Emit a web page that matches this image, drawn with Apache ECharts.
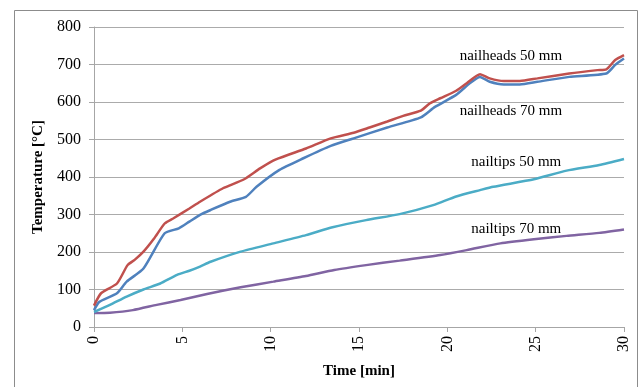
<!DOCTYPE html>
<html>
<head>
<meta charset="utf-8">
<script src="https://cdn.jsdelivr.net/npm/echarts@6/dist/echarts.min.js"></script>
<style>
  html, body { margin: 0; padding: 0; background: #fff; }
  #chart { width: 640px; height: 387px; }
</style>
</head>
<body>
<div id="chart"></div>
<script>
// Measured temperatures (°C) against time (min) for each sensor position
const headsTime50 = [0, 0.4, 1.3, 1.9, 2.3, 2.8, 3.4, 4.0, 4.5, 5.4, 6.0, 7.3, 8.5, 9.4, 10.3, 12.0, 13.4, 14.7, 15.6, 16.6, 17.5, 18.5, 19.0, 19.6, 20.5, 21.1, 21.85, 22.4, 23.2, 24.1, 25.1, 26.9, 28.5, 29.0, 29.5, 30];
const headsTemp50 = [57, 90, 116, 165, 179, 201, 236, 276, 290, 316, 334, 370, 394, 423, 447, 476, 503, 518, 532, 548, 563, 577, 596, 610, 630, 650, 674, 663, 656, 656, 663, 676, 685, 687, 712, 725];

const headsTime70 = [0, 0.3, 1.3, 1.85, 2.8, 4.0, 4.8, 5.4, 6.0, 6.6, 7.7, 8.6, 9.2, 10.5, 11.85, 13.4, 14.7, 16.6, 18.5, 19.3, 20.5, 21.3, 21.85, 22.4, 23.2, 24.1, 25.1, 26.9, 29.0, 29.5, 30];
const headsTemp70 = [45, 67, 90, 121, 156, 250, 263, 281, 299, 312, 334, 347, 374, 419, 450, 483, 503, 532, 559, 587, 619, 651, 667, 654, 647, 647, 654, 667, 676, 699, 716];

const tipsTime50 = [0, 0.9, 1.85, 2.8, 3.75, 4.7, 5.4, 6.0, 6.6, 8.3, 10.15, 12.0, 13.5, 15.4, 17.3, 19.2, 20.5, 21.85, 22.6, 24.9, 26.75, 28.6, 30];
const tipsTemp50 = [40, 59, 81, 100, 116, 139, 150, 161, 174, 201, 223, 245, 266, 285, 301, 325, 348, 365, 374, 394, 417, 432, 448];

const tipsTime70 = [0, 0.9, 2.2, 3.55, 4.9, 6.4, 8.3, 10.15, 12.0, 13.6, 15.4, 17.3, 19.6, 21.1, 23.0, 24.9, 26.75, 28.6, 30];
const tipsTemp70 = [37, 38, 45, 59, 72, 88, 106, 121, 136, 152, 165, 177, 192, 205, 223, 234, 243, 251, 260];

// Curve names and where their labels sit (time, temperature)
const seriesNames = ['nailheads 50 mm', 'nailheads 70 mm', 'nailtips 50 mm', 'nailtips 70 mm'];
const labelAnchors = [[23.6, 722], [23.6, 576], [23.9, 440], [23.9, 261]];
const colors = ['#C0504D', '#4F81BD', '#4BACC6', '#8064A2'];

const xTicks = [0, 5, 10, 15, 20, 25, 30];
const yTicks = [0, 100, 200, 300, 400, 500, 600, 700, 800];

const serif = '"Liberation Serif", "Times New Roman", serif';

function pairs(ts, vs) { return ts.map((t, i) => [t, vs[i]]); }
const seriesData = [
  pairs(headsTime50, headsTemp50),
  pairs(headsTime70, headsTemp70),
  pairs(tipsTime50, tipsTemp50),
  pairs(tipsTime70, tipsTemp70)
];

const chart = echarts.init(document.getElementById('chart'), null, { renderer: 'canvas' });

const option = {
  animation: false,
  backgroundColor: '#fff',
  grid: { left: 94, right: 16, top: 27, bottom: 60 },
  xAxis: {
    type: 'value',
    min: xTicks[0], max: xTicks[xTicks.length - 1], interval: 5,
    name: 'Time [min]',
    nameLocation: 'middle',
    nameGap: 37,
    nameTextStyle: { fontFamily: serif, fontWeight: 'bold', fontSize: 15, color: '#000' },
    axisLine: { show: true, lineStyle: { color: '#a6a6a6', width: 1 } },
    axisTick: { show: true, length: 5, lineStyle: { color: '#a6a6a6' } },
    axisLabel: { rotate: 90, fontFamily: serif, fontSize: 16, color: '#000', margin: 9 },
    splitLine: { show: false }
  },
  yAxis: {
    type: 'value',
    min: yTicks[0], max: yTicks[yTicks.length - 1], interval: 100,
    name: 'Temperature [°C]',
    nameLocation: 'middle',
    nameGap: 44,
    nameTextStyle: { fontFamily: serif, fontWeight: 'bold', fontSize: 15, color: '#000' },
    axisLine: { show: true, lineStyle: { color: '#a6a6a6', width: 1 } },
    axisTick: { show: true, length: 5, lineStyle: { color: '#a6a6a6' } },
    axisLabel: { fontFamily: serif, fontSize: 16, color: '#000', margin: 13 },
    splitLine: { show: true, lineStyle: { color: '#ababab', width: 1 } }
  },
  series: seriesNames.map((name, i) => ({
    name: name,
    type: 'line',
    data: seriesData[i],
    showSymbol: false,
    smooth: 0.2,
    lineStyle: { color: colors[i], width: 2.5 },
    itemStyle: { color: colors[i] },
    z: 10 - i
  })),
  graphic: [{
    type: 'rect',
    shape: { x: 14.5, y: 10.5, width: 623, height: 400 },
    style: { fill: 'none', stroke: '#8c8c8c', lineWidth: 1 },
    silent: true, z: -1
  }]
};

chart.setOption(option);

// Curve labels placed at data coordinates
const labelGraphics = seriesNames.map((name, i) => {
  const p = chart.convertToPixel({ gridIndex: 0 }, labelAnchors[i]);
  return {
    type: 'text',
    x: p[0], y: p[1],
    style: {
      text: name, fontFamily: serif, fontSize: 15, fill: '#000',
      textAlign: 'center', textVerticalAlign: 'middle'
    },
    z: 20
  };
});
chart.setOption({ graphic: option.graphic.concat(labelGraphics) });
</script>
</body>
</html>
